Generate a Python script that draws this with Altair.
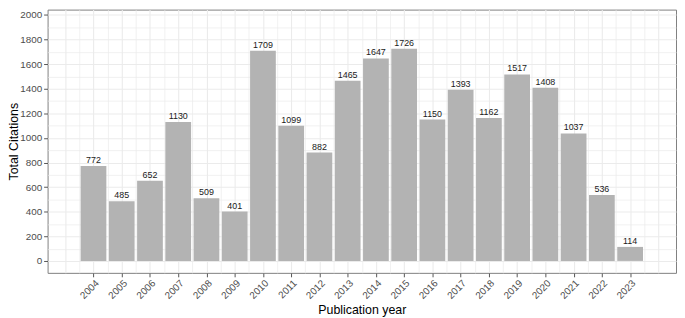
import altair as alt
import pandas as pd
import numpy as np

years = list(range(2004, 2024))
citations = [772, 485, 652, 1130, 509, 401, 1709, 1099, 882, 1465,
             1647, 1726, 1150, 1393, 1162, 1517, 1408, 1037, 536, 114]

df = pd.DataFrame({"year": years, "citations": citations})

FONT = "Liberation Sans"
x_vals = [float(v) for v in np.arange(2003.0, 2024.01, 0.5)]
y_vals = [int(v) for v in range(0, 2001, 100)]

major_x = "datum.value % 1 === 0 && datum.value >= 2004 && datum.value <= 2023"
major_y = "datum.value % 200 === 0"

x_scale = alt.Scale(domain=[2002.55, 2024.45], nice=False, zero=False)
y_scale = alt.Scale(domain=[-97, 2044], nice=False, zero=False)

x_axis = alt.Axis(
    values=x_vals,
    title="Publication year",
    labelExpr=f"({major_x}) ? format(datum.value, 'd') : ''",
    labelAngle=-45, labelAlign="right", labelBaseline="top",
    labelOverlap=False, labelFlush=False, labelBound=False,
    labelPadding=1,
    labelFont=FONT, labelFontSize=10, labelColor="#4d4d4d",
    tickOpacity={"condition": {"test": major_x, "value": 1}, "value": 0},
    tickColor="#555555", tickSize=4,
    grid=True, gridColor="#ebebeb",
    gridWidth={"condition": {"test": "datum.value % 1 === 0", "value": 1.1}, "value": 0.7},
    domain=False,
    titleFont=FONT, titleFontSize=12.5, titleFontWeight="normal", titleColor="#000000",
    titleY=41, titleBaseline="alphabetic",
)

y_axis = alt.Axis(
    values=y_vals,
    title="Total Citations",
    labelExpr=f"({major_y}) ? format(datum.value, 'd') : ''",
    labelOverlap=False, labelFlush=False, labelBound=False,
    labelPadding=2,
    labelFont=FONT, labelFontSize=10, labelColor="#4d4d4d",
    tickOpacity={"condition": {"test": major_y, "value": 1}, "value": 0},
    tickColor="#555555", tickSize=4,
    grid=True, gridColor="#ebebeb",
    gridWidth={"condition": {"test": major_y, "value": 1.1}, "value": 0.7},
    domain=False,
    titleFont=FONT, titleFontSize=12.5, titleFontWeight="normal", titleColor="#000000",
    titleX=-30.5, titleBaseline="alphabetic",
)

X = alt.X("year:Q", scale=x_scale, axis=x_axis)
Y = alt.Y("citations:Q", scale=y_scale, axis=y_axis)

base = alt.Chart(df)

bars = base.mark_bar(color="#b3b3b3", size=26).encode(
    x=X,
    y=Y,
    y2=alt.datum(0),
)

labels = base.mark_text(
    font=FONT, fontSize=9, color="#1a1a1a", baseline="alphabetic", dy=-3
).encode(
    x=X,
    y=Y,
    text=alt.Text("citations:Q", format="d"),
)

chart = alt.layer(bars, labels).properties(
    width=635, height=266,
    autosize=alt.AutoSizeParams(type="none"),
    padding={"left": 40, "top": 0, "right": 1, "bottom": 44},
).configure_view(
    stroke="#7f7f7f", strokeWidth=1, fill="white"
)

chart.save("out.html", embed_options={"renderer": "svg", "actions": False})
